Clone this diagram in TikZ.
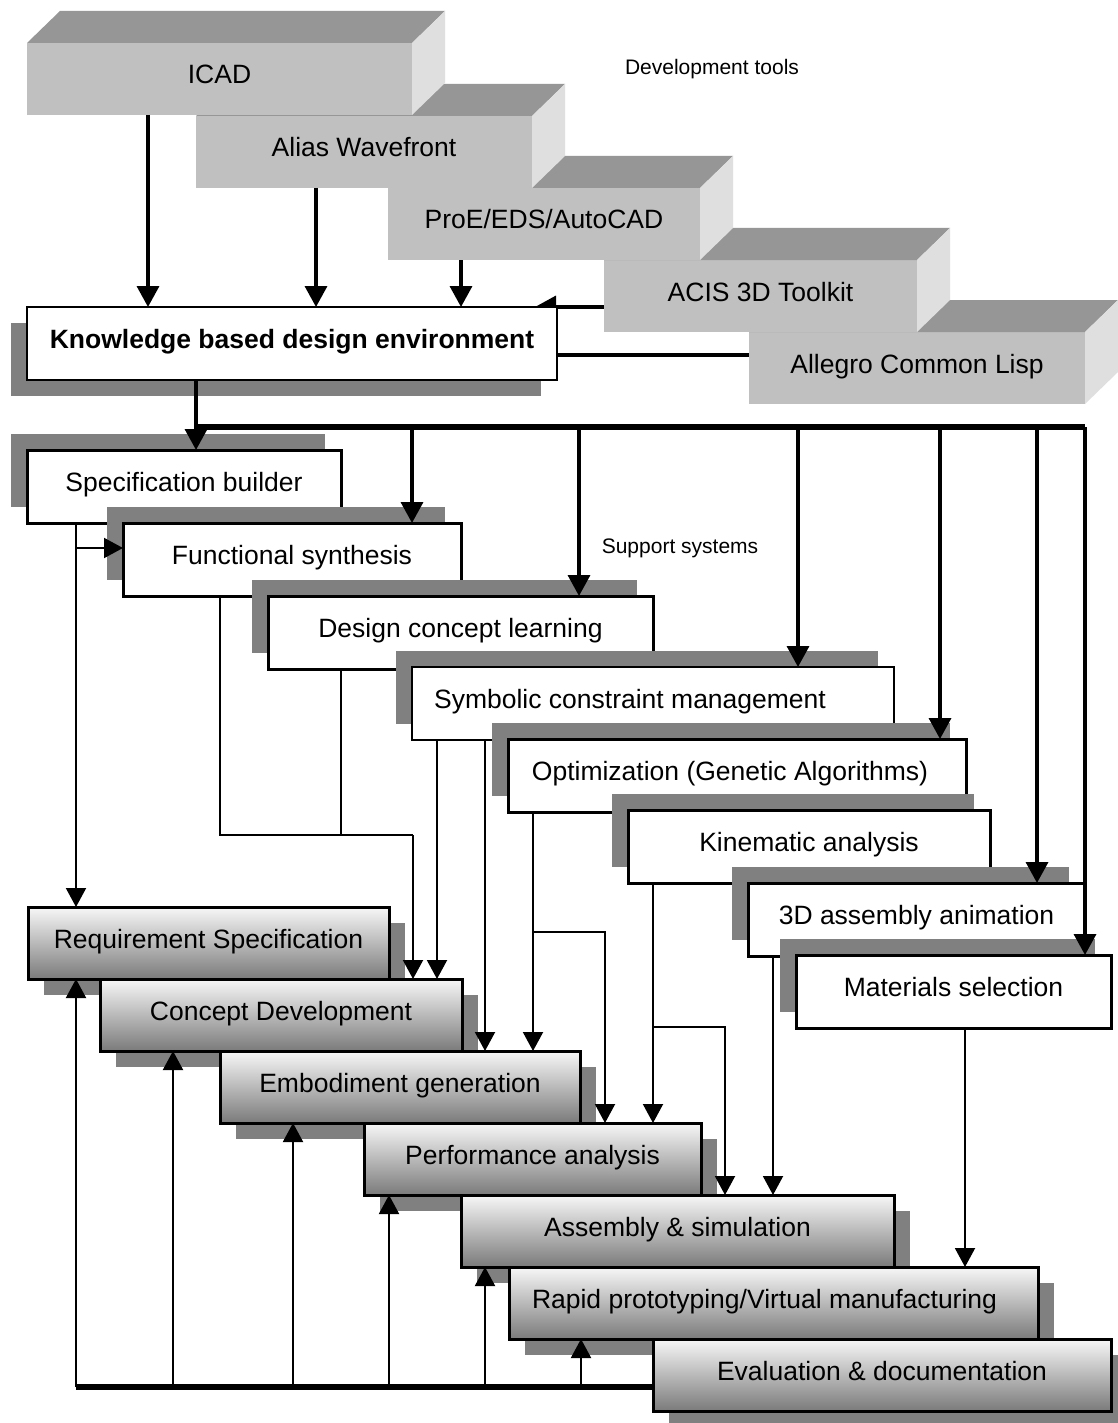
\documentclass[tikz,border=0pt]{standalone}
\usepackage{fontspec}
\setmainfont{Liberation Sans}
\usetikzlibrary{arrows.meta,calc,shadows,backgrounds}
\definecolor{frontc}{HTML}{C0C0C0}
\definecolor{topc}{HTML}{969696}
\definecolor{sidec}{HTML}{DFDFDF}
\definecolor{shadc}{HTML}{808080}
\newcommand\mkblock[5]{%
  \node[front, minimum width=#4pt] (#1) at (#2,#3) {#5};
  \fill[topface] (#1.north west) -- (#1.north east) -- ++(33,-32) -- ($(#1.north west)+(33,-32)$) -- cycle;
  \fill[sideface] (#1.north east) -- ++(33,-32) -- ++(0,72) -- (#1.south east) -- cycle;
}
\begin{document}
\begin{tikzpicture}[x=1pt,y=-1pt,
  every node/.style={font=\fontsize{26.5}{30}\selectfont, inner sep=0pt, outer sep=0pt, text height=17pt, text depth=7pt},
  front/.style={fill=frontc, minimum height=72pt, anchor=north west},
  topface/.style={fill=topc},
  sideface/.style={fill=sidec},
  supbox/.style={draw=black, line width=3pt, fill=white, minimum height=73pt, anchor=north west,
    drop shadow={shadow xshift=-16pt, shadow yshift=16pt, opacity=1, fill=shadc}},
  procbox/.style={draw=black, line width=3pt, top color=white!97!black, bottom color=black!52,
    minimum height=72pt, anchor=north west,
    drop shadow={shadow xshift=16pt, shadow yshift=-16pt, opacity=1, fill=shadc}},
  thickarrow/.style={line width=3.5pt, -{Triangle[width=22pt,length=21pt]}},
  thickline/.style={line width=3.5pt},
  thinarrow/.style={line width=2pt, -{Triangle[width=20pt,length=19pt]}},
  thinline/.style={line width=2pt},
  busline/.style={line width=6.5pt},
  smalltext/.style={font=\fontsize{21}{24}\selectfont}
]
\useasboundingbox (0,0) rectangle (1117,1423);

% development tools
\mkblock{allegro}{749}{332}{336}{Allegro Common Lisp}
\mkblock{acis}{604}{260}{313}{ACIS 3D Toolkit}
\mkblock{proe}{388}{188}{312}{ProE/EDS/AutoCAD}
\mkblock{alias}{196}{116}{336}{Alias Wavefront}
\mkblock{icad}{27}{43}{385}{ICAD}
\node[smalltext] (devtools) at (712,70) {Development tools};

% knowledge based design environment
\node[draw=black, line width=2pt, fill=white, minimum width=530pt, minimum height=73pt, anchor=north west,
  font=\fontsize{26.5}{30}\selectfont\bfseries,
  drop shadow={shadow xshift=-16pt, shadow yshift=-16pt, opacity=1, fill=shadc}]
  (kbde) at (27,307) {Knowledge based design environment};

\begin{pgfonlayer}{background}
  \fill[white] (0,0) rectangle (1117,1423);
  \draw[thickarrow] (acis.west |- kbde.north) -- (kbde.north -| 535,0);
  \draw[thickline] (allegro.west |- 0,355) -- (kbde.east |- 0,355);
\end{pgfonlayer}

\draw[thickarrow] (icad.south -| 148,0) -- (kbde.north -| 148,0);
\draw[thickarrow] (alias.south -| 316,0) -- (kbde.north -| 316,0);
\draw[thickarrow] (proe.south -| 461,0) -- (kbde.north -| 461,0);

% support systems
\node[supbox, minimum width=314pt] (sb) at (27,450) {Specification builder};
\node[supbox, minimum width=338pt] (fs) at (123,523) {Functional synthesis};
\node[supbox, minimum width=385pt] (dcl) at (268,596) {Design concept learning};
\node[supbox, line width=1.5pt, minimum width=482pt] (scm) at (412,667) {\kern-46pt Symbolic constraint management};
\node[supbox, minimum width=458pt] (opt) at (508,739) {\kern-14pt Optimization (Genetic Algorithms)};
\node[supbox, minimum width=362pt] (kin) at (628,810) {Kinematic analysis};
\node[supbox, minimum width=337pt] (anim) at (748,883) {3D assembly animation};
\node[supbox, minimum width=315pt] (mat) at (796,955) {Materials selection};
\node[smalltext] (support) at (680,548) {Support systems};

% process
\node[procbox, minimum width=361pt] (req) at (28,907) {Requirement Specification};
\node[procbox, minimum width=362pt] (cd) at (100,979) {Concept Development};
\node[procbox, minimum width=360pt] (emb) at (220,1051) {Embodiment generation};
\node[procbox, minimum width=337pt] (perf) at (364,1123) {Performance analysis};
\node[procbox, minimum width=433pt] (asm) at (461,1195) {Assembly \& simulation};
\node[procbox, minimum width=529pt] (rp) at (509,1267) {\kern-18pt Rapid prototyping/Virtual manufacturing};
\node[procbox, minimum width=458pt] (eval) at (653,1339) {Evaluation \& documentation};

% distribution bus
\coordinate (busL) at (196,427);
\coordinate (busR) at (1085,427);
\draw[thickarrow] (kbde.south -| busL) -- (sb.north -| busL);
\draw[busline] (busL) -- (busR);
\draw[thickarrow] (busR) -- (mat.north -| busR);
\draw[thickarrow] (busL -| 412,0) -- (fs.north -| 412,0);
\draw[thickarrow] (busL -| 579,0) -- (dcl.north -| 579,0);
\draw[thickarrow] (busL -| 798,0) -- (scm.north -| 798,0);
\draw[thickarrow] (busL -| 940,0) -- (opt.north -| 940,0);
\draw[thickarrow] (busL -| 1037,0) -- (anim.north -| 1037,0);

% support -> process
\coordinate (sbj) at (76,548);
\draw[thinarrow] (sb.south -| sbj) -- (req.north -| sbj);
\draw[thinarrow] (sbj) -- (fs.west |- sbj);
\coordinate (fdj) at (341,835);
\coordinate (cdj) at (413,835);
\draw[thinline] (fs.south -| 220,0) |- (cdj);
\draw[thinline] (dcl.south -| fdj) -- (fdj);
\draw[thinarrow] (cdj) -- (cd.north -| cdj);
\draw[thinarrow] (scm.south -| 437,0) -- (cd.north -| 437,0);
\draw[thinarrow] (scm.south -| 485,0) -- (emb.north -| 485,0);
\draw[thinarrow] (opt.south -| 533,0) -- (emb.north -| 533,0);
\coordinate (oj) at (533,932);
\draw[thinarrow] (oj) -| (perf.north -| 605,0);
\draw[thinarrow] (kin.south -| 653,0) -- (perf.north -| 653,0);
\coordinate (kj) at (653,1027);
\draw[thinarrow] (kj) -| (asm.north -| 725,0);
\draw[thinarrow] (anim.south -| 773,0) -- (asm.north -| 773,0);
\draw[thinarrow] (mat.south -| 965,0) -- (rp.north -| 965,0);

% feedback bus
\coordinate (fbL) at (76,1387);
\draw[busline] (fbL) -- (eval.west |- fbL);
\draw[thinarrow] (fbL) -- (req.south -| fbL);
\draw[thinarrow] (fbL -| 173,0) -- (cd.south -| 173,0);
\draw[thinarrow] (fbL -| 293,0) -- (emb.south -| 293,0);
\draw[thinarrow] (fbL -| 389,0) -- (perf.south -| 389,0);
\draw[thinarrow] (fbL -| 485,0) -- (asm.south -| 485,0);
\draw[thinarrow] (fbL -| 581,0) -- (rp.south -| 581,0);
\end{tikzpicture}
\end{document}
